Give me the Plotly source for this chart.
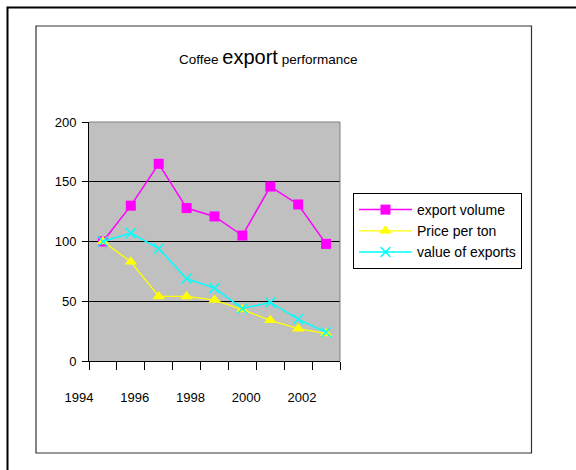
import plotly.graph_objects as go

# ---- data ----
years = ['1994', '1995', '1996', '1997', '1998', '1999', '2000', '2001', '2002']
tick_labels = ['1994', '', '1996', '', '1998', '', '2000', '', '2002']
export_volume = [100, 130, 165, 128, 121, 105, 146, 131, 98]
price_per_ton = [100, 83, 54, 54, 51, 43, 34, 27, 23]
value_of_exports = [100, 107, 94, 69, 61, 44, 49, 35, 24]

# ---- geometry helpers (pixel -> paper) ----
W, H = 576, 470
L, R, T, B = 89, 340, 122, 361


def px(x):
    return (x - L) / (R - L)


def py(y):
    return (B - y) / (B - T)


FONT = "Liberation Sans, Arial, sans-serif"

fig = go.Figure()
fig.add_trace(go.Scatter(
    x=years, y=export_volume, name='export volume', mode='lines+markers',
    line=dict(color='#FF00FF', width=1.5),
    marker=dict(symbol='square', size=10, color='#FF00FF')))
fig.add_trace(go.Scatter(
    x=years, y=price_per_ton, name='Price per ton', mode='lines+markers',
    line=dict(color='#FFFF00', width=1.3),
    marker=dict(symbol='triangle-up', size=11, color='#FFFF00')))
fig.add_trace(go.Scatter(
    x=years, y=value_of_exports, name='value of exports', mode='lines+markers',
    line=dict(color='#00FFFF', width=1.5),
    marker=dict(symbol='x-thin', size=10, color='#00FFFF',
                line=dict(color='#00FFFF', width=1.5))))

fig.update_layout(
    width=W, height=H,
    margin=dict(l=L, r=W - R, t=T, b=H - B, pad=0),
    paper_bgcolor='white', plot_bgcolor='#C0C0C0',
    font=dict(family=FONT, size=13, color='black'),
    showlegend=True,
    legend=dict(x=px(353), y=py(193), xanchor='left', yanchor='top',
                bordercolor='black', borderwidth=1, bgcolor='white',
                font=dict(family=FONT, size=14, color='black'),
                itemwidth=53, tracegroupgap=0),
    xaxis=dict(type='category', range=[-0.5, 8.5], tickson='boundaries',
               tickmode='array', tickvals=years, ticktext=tick_labels,
               ticks='outside', ticklen=8, tickcolor='black', tickwidth=1,
               showline=True, linecolor='black', linewidth=1,
               showgrid=False, zeroline=False, tickangle=0,
               ticklabelshift=-24, ticklabelstandoff=24,
               tickfont=dict(family=FONT, size=13)),
    yaxis=dict(range=[0, 200], dtick=50, tick0=0,
               ticks='outside', ticklen=6, tickcolor='black', tickwidth=1,
               showline=True, linecolor='black', linewidth=1,
               showgrid=True, gridcolor='black', gridwidth=1,
               zeroline=False, ticklabelstandoff=3,
               tickfont=dict(family=FONT, size=13)),
    annotations=[dict(
        text="Coffee <span style='font-size:20px'>export</span> performance",
        x=px(268), y=py(57), xref='paper', yref='paper',
        xanchor='center', yanchor='middle', showarrow=False,
        font=dict(family=FONT, size=13.5, color='black'))],
    shapes=[
        dict(type='rect', xref='paper', yref='paper',
             x0=px(7.5), x1=px(590), y0=py(7.5), y1=py(490),
             line=dict(color='black', width=2)),
        dict(type='rect', xref='paper', yref='paper',
             x0=px(36), x1=px(531.5), y0=py(26), y1=py(453),
             line=dict(color='#333333', width=1.2)),
        dict(type='line', xref='paper', yref='paper',
             x0=0, x1=1, y0=1, y1=1, line=dict(color='#808080', width=1)),
        dict(type='line', xref='paper', yref='paper',
             x0=1, x1=1, y0=0, y1=1, line=dict(color='#808080', width=1)),
    ],
)

fig.write_html("out.html",
               config={'displayModeBar': False},
               post_script="document.body.style.margin='0';"
                           "document.body.style.overflow='hidden';")
